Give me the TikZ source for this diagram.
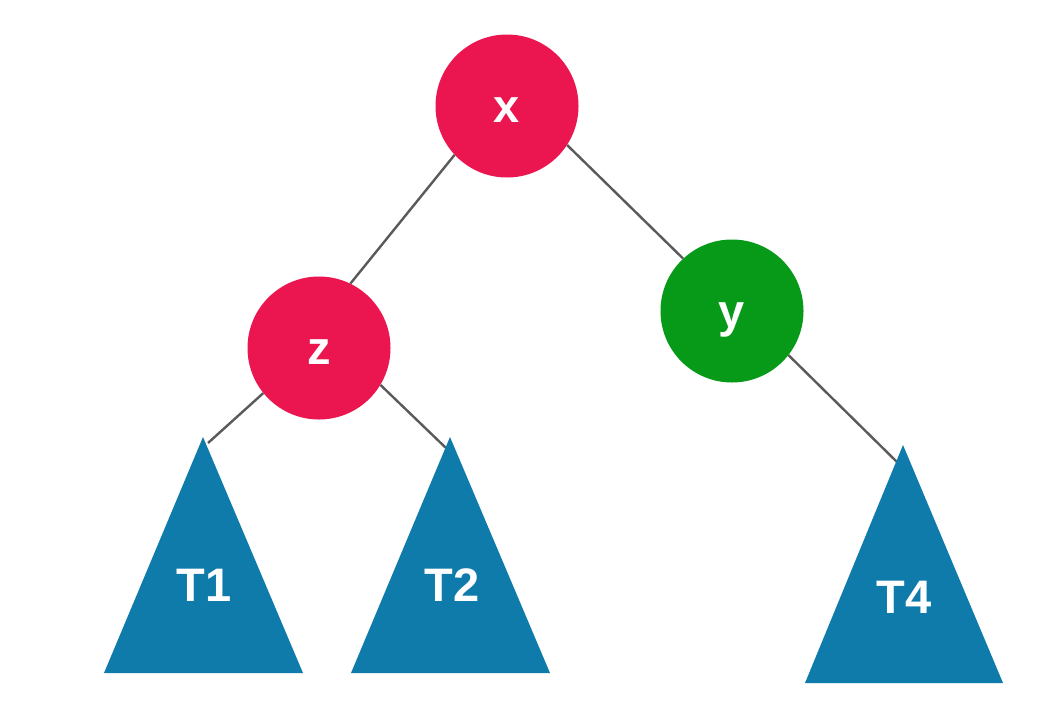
\documentclass[tikz,border=0pt]{standalone}
\usepackage{fontspec}
\setmainfont{Liberation Sans}
\definecolor{rbred}{HTML}{EB1650}
\definecolor{rbgreen}{HTML}{079A19}
\definecolor{tblue}{HTML}{0F7BAA}
\definecolor{edgegray}{HTML}{5A5A5A}
\begin{document}
\begin{tikzpicture}[x=1pt,y=-1pt,
  node/.style={circle,minimum size=143pt,inner sep=0pt,text=white,text height=33pt,text depth=0pt,font=\fontsize{47}{47}\selectfont\bfseries},
  rednode/.style={node,fill=rbred},
  greennode/.style={node,fill=rbgreen},
  tri/.style={fill=tblue},
  trilabel/.style={text=white,font=\fontsize{47}{47}\selectfont\bfseries,inner sep=0pt},
  edge/.style={draw=edgegray,line width=2.4pt}]
\useasboundingbox (0,0) rectangle (1048,712);
\fill[white] (0,0) rectangle (1048,712);
% nodes
\node[rednode] (x) at (507,106) {x};
\node[rednode] (z) at (319,348) {z};
\node[greennode] (y) at (732,311) {y};
% attachment points on subtrees
\coordinate (a1) at (208,443);
\coordinate (a2) at (446,448);
\coordinate (a4) at (897,462);
% edges
\draw[edge] (x.223) -- (z.64);
\draw[edge] (x.-33) -- (y.133);
\draw[edge] (z.219) -- (a1);
\draw[edge] (z.-31) -- (a2);
\draw[edge] (y.-38) -- (a4);
% subtrees
\fill[tri] (203,437) -- (303,673) -- (104,673) -- cycle;
\fill[tri] (450,437) -- (550,673) -- (351,673) -- cycle;
\fill[tri] (903,445) -- (1003,683) -- (805,683) -- cycle;
\node[trilabel] (T1) at (204,585) {T1};
\node[trilabel] (T2) at (452,585) {T2};
\node[trilabel] (T4) at (904,597) {T4};
\end{tikzpicture}
\end{document}
